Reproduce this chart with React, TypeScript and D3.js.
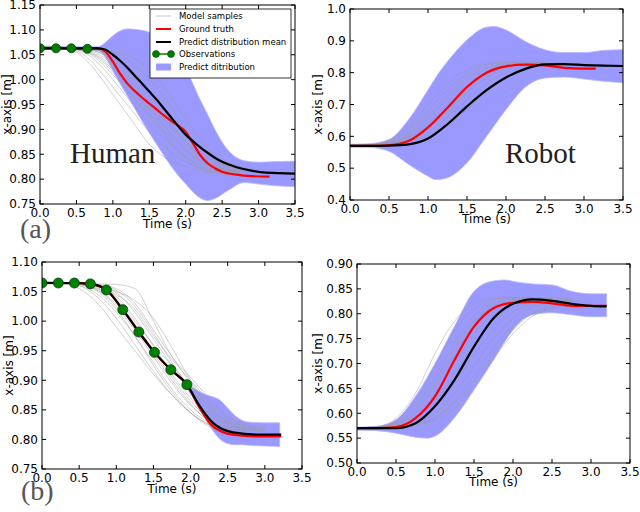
import React from 'react';
import * as d3 from 'd3';

// sample times for the grey model samples
const T = [0, 0.25, 0.5, 0.75, 1.0, 1.25, 1.5, 1.75, 2.0, 2.25, 2.5, 2.75, 3.0, 3.25, 3.5];
const xTicks = [0, 0.5, 1.0, 1.5, 2.0, 2.5, 3.0, 3.5];

// ---- (a) Human ----
const humanSamples = [
  [1.065, 1.063, 1.055, 1.02, 0.97, 0.92, 0.87, 0.84, 0.825, 0.815, 0.812],
  [1.066, 1.064, 1.058, 1.03, 0.985, 0.94, 0.895, 0.86, 0.835, 0.82, 0.815, 0.813],
  [1.064, 1.063, 1.06, 1.04, 1.0, 0.955, 0.91, 0.875, 0.845, 0.825, 0.817, 0.814],
  [1.068, 1.066, 1.062, 1.045, 1.01, 0.97, 0.93, 0.89, 0.855, 0.83, 0.82, 0.816, 0.815],
  [1.062, 1.062, 1.06, 1.05, 1.02, 0.98, 0.94, 0.9, 0.86, 0.832, 0.82, 0.815],
  [1.065, 1.064, 1.062, 1.055, 1.03, 0.99, 0.95, 0.91, 0.87, 0.84, 0.825, 0.818, 0.815],
  [1.066, 1.065, 1.063, 1.058, 1.04, 1.0, 0.955, 0.915, 0.875, 0.845, 0.828, 0.82],
  [1.064, 1.064, 1.063, 1.06, 1.045, 1.01, 0.965, 0.92, 0.875, 0.84, 0.822, 0.815],
  [1.067, 1.066, 1.064, 1.058, 1.035, 0.995, 0.945, 0.9, 0.86, 0.835, 0.822],
  [1.063, 1.063, 1.062, 1.06, 1.05, 1.02, 0.975, 0.93, 0.885, 0.85, 0.83, 0.82, 0.816],
  [1.065, 1.065, 1.064, 1.062, 1.055, 1.035, 1.0, 0.955, 0.9, 0.855, 0.83, 0.82],
  [1.066, 1.065, 1.063, 1.052, 1.025, 0.985, 0.935, 0.885, 0.845, 0.822, 0.813],
  [1.064, 1.063, 1.061, 1.048, 1.015, 0.97, 0.925, 0.88, 0.84, 0.818, 0.81, 0.808],
  [1.065, 1.064, 1.063, 1.061, 1.057, 1.045, 1.02, 0.975, 0.92, 0.87, 0.84, 0.825, 0.818],
];
const humanBandT = [0, 0.5, 0.8, 0.9, 1.0, 1.1, 1.2, 1.4, 1.6, 1.8, 2.0, 2.2, 2.3, 2.4, 2.6, 2.8, 3.0, 3.2, 3.5];
const humanBandHi = [1.066, 1.066, 1.066, 1.075, 1.088, 1.098, 1.102, 1.099, 1.088, 1.062, 1.022, 0.959, 0.93, 0.9, 0.855, 0.837, 0.834, 0.835, 0.836];
const humanBandLo = [1.061, 1.061, 1.058, 1.045, 1.018, 0.992, 0.967, 0.917, 0.87, 0.826, 0.79, 0.762, 0.757, 0.761, 0.779, 0.793, 0.79, 0.787, 0.785];
const humanRedT = [0, 0.8, 0.9, 1.0, 1.1, 1.2, 1.3, 1.4, 1.5, 1.6, 1.7, 1.8, 1.9, 2.0, 2.1, 2.2, 2.3, 2.4, 2.5, 2.7, 2.9, 3.15];
const humanRed = [1.063, 1.063, 1.056, 1.036, 1.012, 0.992, 0.977, 0.964, 0.952, 0.94, 0.928, 0.917, 0.907, 0.895, 0.872, 0.848, 0.832, 0.822, 0.815, 0.809, 0.806, 0.805];
const humanMeanT = [0, 0.8, 0.9, 1.0, 1.1, 1.2, 1.3, 1.4, 1.5, 1.6, 1.7, 1.8, 1.9, 2.0, 2.1, 2.2, 2.3, 2.4, 2.5, 2.7, 2.9, 3.1, 3.5];
const humanMean = [1.063, 1.063, 1.06, 1.05, 1.038, 1.024, 1.008, 0.992, 0.976, 0.96, 0.942, 0.924, 0.906, 0.889, 0.876, 0.864, 0.853, 0.843, 0.835, 0.824, 0.817, 0.813, 0.811];
const humanObsT = [0, 0.22, 0.43, 0.65];
const humanObs = [1.063, 1.063, 1.063, 1.062];

// ---- Robot (top) ----
const robotSamples = [
  [0.57, 0.572, 0.585, 0.62, 0.68, 0.745, 0.795, 0.822, 0.832, 0.834, 0.833],
  [0.568, 0.57, 0.578, 0.605, 0.655, 0.72, 0.775, 0.81, 0.825, 0.83, 0.83, 0.829],
  [0.572, 0.573, 0.58, 0.6, 0.64, 0.7, 0.76, 0.8, 0.822, 0.828, 0.828],
  [0.57, 0.571, 0.576, 0.592, 0.625, 0.678, 0.738, 0.785, 0.812, 0.825, 0.828, 0.827],
  [0.569, 0.57, 0.574, 0.588, 0.615, 0.66, 0.715, 0.765, 0.8, 0.82, 0.826, 0.826],
  [0.571, 0.572, 0.575, 0.585, 0.605, 0.645, 0.698, 0.75, 0.79, 0.815, 0.825],
  [0.57, 0.571, 0.58, 0.61, 0.665, 0.73, 0.785, 0.815, 0.828, 0.83, 0.83],
  [0.568, 0.569, 0.573, 0.583, 0.6, 0.635, 0.685, 0.74, 0.785, 0.813, 0.826, 0.83, 0.83],
  [0.572, 0.574, 0.588, 0.63, 0.7, 0.765, 0.81, 0.828, 0.833, 0.834],
  [0.57, 0.57, 0.575, 0.595, 0.63, 0.685, 0.745, 0.792, 0.818, 0.828, 0.83, 0.83],
];
const robotBandT = [0, 0.25, 0.5, 0.75, 1.0, 1.1, 1.25, 1.5, 1.75, 1.85, 2.0, 2.25, 2.5, 2.75, 3.0, 3.25, 3.5];
const robotBandHi = [0.575, 0.577, 0.59, 0.652, 0.746, 0.785, 0.835, 0.903, 0.943, 0.945, 0.934, 0.898, 0.872, 0.863, 0.863, 0.87, 0.872];
const robotBandLo = [0.565, 0.565, 0.553, 0.512, 0.475, 0.464, 0.47, 0.517, 0.6, 0.634, 0.684, 0.755, 0.783, 0.786, 0.78, 0.773, 0.768];
const robotRedT = [0, 0.25, 0.5, 0.75, 1.0, 1.25, 1.5, 1.75, 2.0, 2.25, 2.5, 2.75, 3.0, 3.15];
const robotRed = [0.57, 0.57, 0.572, 0.585, 0.628, 0.69, 0.755, 0.8, 0.82, 0.825, 0.823, 0.815, 0.813, 0.813];
const robotMean = [0.57, 0.57, 0.571, 0.575, 0.593, 0.638, 0.694, 0.745, 0.785, 0.812, 0.826, 0.827, 0.824, 0.822, 0.821];

// ---- (b) Human with more observations ----
const humanBSamples = [
  [1.065, 1.064, 1.055, 1.03, 0.99, 0.95, 0.91, 0.875, 0.845, 0.825, 0.815, 0.812],
  [1.066, 1.065, 1.06, 1.04, 1.005, 0.96, 0.915, 0.875, 0.845, 0.825, 0.817],
  [1.064, 1.063, 1.06, 1.045, 1.015, 0.975, 0.93, 0.885, 0.85, 0.828, 0.818, 0.815],
  [1.067, 1.066, 1.063, 1.052, 1.025, 0.985, 0.94, 0.895, 0.858, 0.832, 0.82, 0.816, 0.814],
  [1.063, 1.063, 1.062, 1.055, 1.035, 0.995, 0.95, 0.905, 0.865, 0.835, 0.82],
  [1.065, 1.065, 1.063, 1.058, 1.042, 1.005, 0.958, 0.91, 0.87, 0.84, 0.825, 0.818],
  [1.066, 1.065, 1.064, 1.06, 1.048, 1.015, 0.97, 0.925, 0.88, 0.845, 0.825, 0.817, 0.815],
  [1.064, 1.064, 1.063, 1.062, 1.055, 1.03, 0.985, 0.94, 0.895, 0.855, 0.83, 0.82],
  [1.065, 1.065, 1.064, 1.063, 1.062, 1.055, 1.0, 0.94, 0.905, 0.87, 0.84, 0.825, 0.82],
  [1.066, 1.065, 1.063, 1.05, 1.02, 0.975, 0.925, 0.88, 0.845, 0.822, 0.812],
  [1.065, 1.064, 1.062, 1.056, 1.038, 1.0, 0.96, 0.925, 0.89, 0.86, 0.835, 0.822, 0.818],
  [1.063, 1.063, 1.062, 1.058, 1.045, 1.02, 0.975, 0.935, 0.9, 0.865, 0.838, 0.823],
  [1.066, 1.065, 1.064, 1.061, 1.052, 1.025, 0.98, 0.93, 0.885, 0.85, 0.828, 0.818],
  [1.064, 1.064, 1.062, 1.053, 1.028, 0.99, 0.945, 0.9, 0.86, 0.83, 0.815, 0.81],
  [1.065, 1.064, 1.063, 1.06, 1.05, 1.035, 1.005, 0.955, 0.9, 0.855, 0.83, 0.82, 0.817],
];
const humanBObsT = [0, 0.22, 0.436, 0.651, 0.867, 1.087, 1.303, 1.514, 1.734, 1.95];
const humanBObs = [1.0645, 1.0645, 1.0645, 1.063, 1.0527, 1.0194, 0.9816, 0.9472, 0.9179, 0.8926];
const humanBTailT = [2.125, 2.3, 2.57, 2.93, 3.22];
const humanBMeanTail = [0.856, 0.828, 0.812, 0.808, 0.808];
const humanBRedTail = [0.853, 0.822, 0.808, 0.805, 0.805];
const humanBBandT = [1.9, 2.0, 2.1, 2.2, 2.3, 2.4, 2.5, 2.6, 2.7, 2.8, 3.0, 3.2];
const humanBBandHi = [0.9, 0.89, 0.882, 0.876, 0.872, 0.866, 0.853, 0.84, 0.832, 0.829, 0.828, 0.828];
const humanBBandLo = [0.896, 0.877, 0.857, 0.835, 0.815, 0.8, 0.793, 0.791, 0.791, 0.79, 0.789, 0.788];

// ---- Robot (bottom) ----
const robotBSamples = [
  [0.57, 0.572, 0.59, 0.64, 0.72, 0.785, 0.82, 0.83, 0.832, 0.832, 0.83],
  [0.568, 0.57, 0.585, 0.625, 0.695, 0.765, 0.81, 0.828, 0.833, 0.833],
  [0.571, 0.572, 0.582, 0.615, 0.675, 0.74, 0.795, 0.822, 0.83, 0.831, 0.83, 0.829],
  [0.57, 0.571, 0.578, 0.605, 0.655, 0.72, 0.778, 0.812, 0.826, 0.83, 0.83],
  [0.569, 0.57, 0.576, 0.598, 0.64, 0.7, 0.76, 0.8, 0.82, 0.827, 0.828, 0.827],
  [0.571, 0.572, 0.575, 0.59, 0.625, 0.68, 0.74, 0.787, 0.812, 0.822, 0.826, 0.826, 0.825],
  [0.57, 0.57, 0.574, 0.585, 0.612, 0.66, 0.718, 0.77, 0.803, 0.818, 0.823, 0.823],
  [0.568, 0.569, 0.572, 0.58, 0.6, 0.64, 0.695, 0.75, 0.79, 0.812, 0.82, 0.82, 0.82],
  [0.571, 0.572, 0.573, 0.578, 0.592, 0.625, 0.675, 0.73, 0.775, 0.803, 0.815, 0.818],
  [0.57, 0.57, 0.571, 0.575, 0.585, 0.61, 0.655, 0.71, 0.76, 0.795, 0.81, 0.815, 0.815],
  [0.569, 0.57, 0.572, 0.577, 0.59, 0.62, 0.665, 0.72, 0.768, 0.8, 0.812],
  [0.57, 0.571, 0.58, 0.61, 0.665, 0.73, 0.785, 0.815, 0.828, 0.832, 0.832, 0.83],
];
const robotBBandT = [0, 0.25, 0.5, 0.75, 0.9, 1.0, 1.25, 1.5, 1.75, 1.9, 2.0, 2.25, 2.5, 2.75, 3.0, 3.2];
const robotBBandHi = [0.572, 0.574, 0.587, 0.634, 0.672, 0.7, 0.775, 0.845, 0.866, 0.868, 0.865, 0.86, 0.858, 0.845, 0.84, 0.84];
const robotBBandLo = [0.566, 0.565, 0.56, 0.552, 0.55, 0.554, 0.591, 0.647, 0.707, 0.745, 0.768, 0.798, 0.802, 0.798, 0.794, 0.794];
const robotBT = [0, 0.25, 0.5, 0.75, 1.0, 1.25, 1.5, 1.75, 2.0, 2.25, 2.5, 2.75, 3.0, 3.2];
const robotBRed = [0.57, 0.57, 0.572, 0.59, 0.634, 0.707, 0.774, 0.811, 0.822, 0.824, 0.821, 0.816, 0.816, 0.816];
const robotBMean = [0.57, 0.57, 0.57, 0.58, 0.614, 0.667, 0.734, 0.791, 0.82, 0.829, 0.826, 0.82, 0.816, 0.815];

const legendItems = ['Model samples', 'Ground truth', 'Predict distribution mean', 'Observations', 'Predict ditribution'];

const FONT = 'DejaVu Sans, sans-serif';
const SERIF = 'Liberation Serif, serif';
const BLUE = '#9999ff';
const GREEN = '#008000';

const zip = (ts, vs) => vs.map((v, i) => [ts[i], v]);

const Panel = ({ box, yDomain, yTicks, yFmt, band, samples, red, mean, obs, dotR, yLabelX, timeY }) => {
  const [x0, x1, y0, y1] = box;
  const x = d3.scaleLinear().domain([0, 3.5]).range([x0, x1]);
  const y = d3.scaleLinear().domain(yDomain).range([y1, y0]);
  const line = d3.line().x((d) => x(d[0])).y((d) => y(d[1])).curve(d3.curveMonotoneX);
  const area = d3
    .area()
    .x((d) => x(d[0]))
    .y0((d) => y(d[2]))
    .y1((d) => y(d[1]))
    .curve(d3.curveMonotoneX);
  const bandData = band.t.map((t, i) => [t, band.hi[i], band.lo[i]]);
  const fmtX = d3.format('.1f');
  const fmtY = d3.format(yFmt);
  const clipId = `clip-${x0}-${y0}`;

  return (
    <g>
      <defs>
        <clipPath id={clipId}>
          <rect x={x0} y={y0} width={x1 - x0} height={y1 - y0} />
        </clipPath>
      </defs>
      <g clipPath={`url(#${clipId})`}>
        <path d={area(bandData)} fill={BLUE} stroke="#b8b8ff" strokeWidth={0.8} />
        {samples.map((s, i) => (
          <path key={i} d={line(zip(T, s))} fill="none" stroke="#9a9a9a" strokeOpacity={0.45} strokeWidth={1} />
        ))}
        <path d={line(red)} fill="none" stroke="#ff0000" strokeWidth={2.2} />
        <path d={line(mean)} fill="none" stroke="#000" strokeWidth={2.2} />
        {obs.map((d, i) => (
          <circle key={i} cx={x(d[0])} cy={y(d[1])} r={dotR} fill={GREEN} stroke="#0b3d0b" strokeWidth={0.8} />
        ))}
      </g>
      <rect x={x0} y={y0} width={x1 - x0} height={y1 - y0} fill="none" stroke="#000" strokeWidth={1} />
      {xTicks.map((t) => (
        <g key={t}>
          <line x1={x(t)} x2={x(t)} y1={y1} y2={y1 - 4} stroke="#000" />
          <line x1={x(t)} x2={x(t)} y1={y0} y2={y0 + 4} stroke="#000" />
          <text x={x(t)} y={y1 + 13} textAnchor="middle" fontFamily={FONT} fontSize={12}>
            {fmtX(t)}
          </text>
        </g>
      ))}
      {yTicks.map((t) => (
        <g key={t}>
          <line x1={x0} x2={x0 + 4} y1={y(t)} y2={y(t)} stroke="#000" />
          <line x1={x1} x2={x1 - 4} y1={y(t)} y2={y(t)} stroke="#000" />
          <text x={x0 - 4} y={y(t)} dy="0.36em" textAnchor="end" fontFamily={FONT} fontSize={12}>
            {fmtY(t)}
          </text>
        </g>
      ))}
      <text x={(x0 + x1) / 2} y={timeY} textAnchor="middle" fontFamily={FONT} fontSize={12}>
        Time (s)
      </text>
      <text
        transform={`translate(${yLabelX},${(y0 + y1) / 2}) rotate(-90)`}
        textAnchor="middle"
        fontFamily={FONT}
        fontSize={12}
      >
        x-axis [m]
      </text>
    </g>
  );
};

const Legend = () => {
  const rows = [16, 29, 42, 54, 67];
  return (
    <g>
      <rect x={150} y={9} width={141} height={69} fill="#fff" stroke="#000" strokeWidth={0.8} />
      <line x1={156} x2={171} y1={rows[0]} y2={rows[0]} stroke="#c8c8c8" strokeWidth={1} />
      <line x1={156} x2={171} y1={rows[1]} y2={rows[1]} stroke="#ff0000" strokeWidth={2} />
      <line x1={156} x2={171} y1={rows[2]} y2={rows[2]} stroke="#000" strokeWidth={2} />
      <line x1={156} x2={171} y1={rows[3]} y2={rows[3]} stroke={GREEN} strokeWidth={1.5} />
      <circle cx={156} cy={rows[3]} r={3.5} fill={GREEN} stroke="#0b3d0b" strokeWidth={0.6} />
      <circle cx={171} cy={rows[3]} r={3.5} fill={GREEN} stroke="#0b3d0b" strokeWidth={0.6} />
      <rect x={156} y={rows[4] - 3.5} width={15} height={7} fill={BLUE} />
      {legendItems.map((t, i) => (
        <text key={t} x={179} y={rows[i]} dy="0.35em" fontFamily={FONT} fontSize={8.5}>
          {t}
        </text>
      ))}
    </g>
  );
};

export default function App() {
  return (
    <svg width={640} height={512} style={{ position: 'absolute', left: 0, top: 0, background: '#fff' }}>
      <rect width={640} height={512} fill="#fff" />
      <Panel
        box={[40, 295, 5, 204]}
        yDomain={[0.75, 1.15]}
        yTicks={d3.range(0.75, 1.151, 0.05)}
        yFmt=".2f"
        band={{ t: humanBandT, hi: humanBandHi, lo: humanBandLo }}
        samples={humanSamples}
        red={zip(humanRedT, humanRed)}
        mean={zip(humanMeanT, humanMean)}
        obs={zip(humanObsT, humanObs)}
        dotR={4.5}
        yLabelX={11}
        timeY={228}
      />
      <Panel
        box={[350, 623, 9, 200]}
        yDomain={[0.4, 1.0]}
        yTicks={d3.range(0.4, 1.001, 0.1)}
        yFmt=".1f"
        band={{ t: robotBandT, hi: robotBandHi, lo: robotBandLo }}
        samples={robotSamples}
        red={zip(robotRedT, robotRed)}
        mean={zip(T, robotMean)}
        obs={[]}
        dotR={4.5}
        yLabelX={322}
        timeY={223}
      />
      <Panel
        box={[42, 302, 262, 469]}
        yDomain={[0.75, 1.1]}
        yTicks={d3.range(0.75, 1.101, 0.05)}
        yFmt=".2f"
        band={{ t: humanBBandT, hi: humanBBandHi, lo: humanBBandLo }}
        samples={humanBSamples}
        red={zip(humanBObsT.concat(humanBTailT), humanBObs.concat(humanBRedTail))}
        mean={zip(humanBObsT.concat(humanBTailT), humanBObs.concat(humanBMeanTail))}
        obs={zip(humanBObsT, humanBObs)}
        dotR={5}
        yLabelX={13}
        timeY={493}
      />
      <Panel
        box={[357, 630, 264, 463]}
        yDomain={[0.5, 0.9]}
        yTicks={d3.range(0.5, 0.901, 0.05)}
        yFmt=".2f"
        band={{ t: robotBBandT, hi: robotBBandHi, lo: robotBBandLo }}
        samples={robotBSamples}
        red={zip(robotBT, robotBRed)}
        mean={zip(robotBT, robotBMean)}
        obs={[]}
        dotR={5}
        yLabelX={322}
        timeY={486}
      />
      <Legend />
      <text x={70} y={163} fontFamily={SERIF} fontSize={29} fill="#222">
        Human
      </text>
      <text x={505} y={163} fontFamily={SERIF} fontSize={29} fill="#222">
        Robot
      </text>
      <text x={20} y={238} fontFamily={SERIF} fontSize={28} fill="#555">
        (a)
      </text>
      <text x={21} y={500} fontFamily={SERIF} fontSize={28} fill="#555">
        (b)
      </text>
    </svg>
  );
}
